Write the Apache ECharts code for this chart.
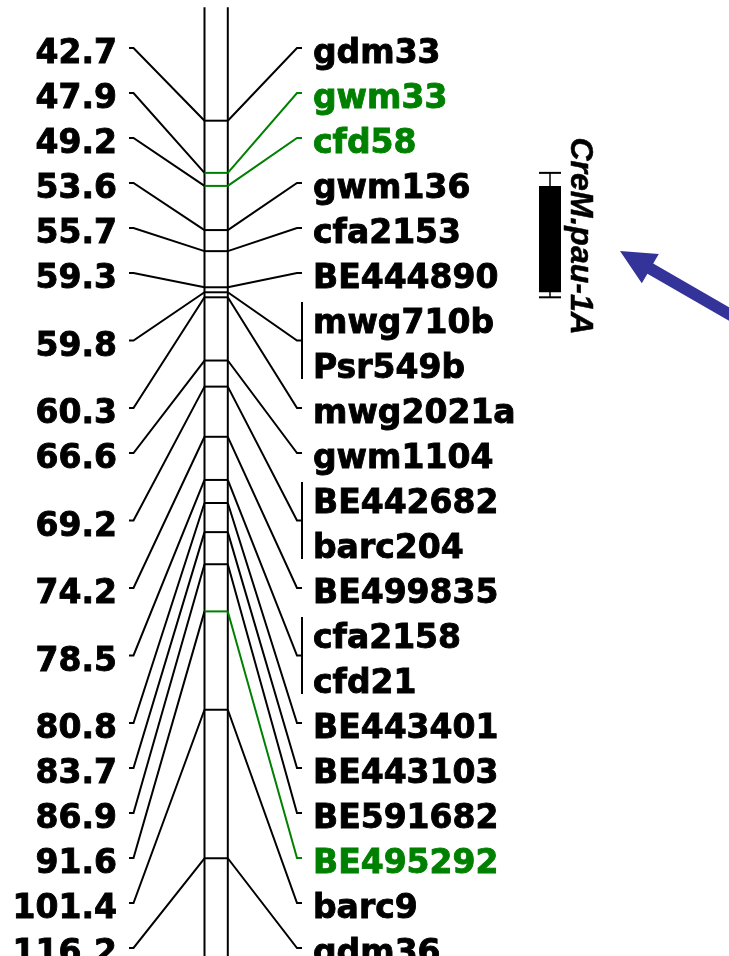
<!DOCTYPE html>
<html><head><meta charset="utf-8">
<script src="https://cdn.jsdelivr.net/npm/echarts@6/dist/echarts.min.js"></script>
<style>html,body{margin:0;padding:0;background:#fff}#c{width:729px;height:956px}</style>
</head><body><div id="c"></div>
<script>
// ---- data ----
const positionsCM = [42.7, 47.9, 49.2, 53.6, 55.7, 59.3, 59.8, 60.3, 66.6, 69.2, 74.2, 78.5, 80.8, 83.7, 86.9, 91.6, 101.4, 116.2];
const markerGroups = [['gdm33'], ['gwm33'], ['cfd58'], ['gwm136'], ['cfa2153'], ['BE444890'], ['mwg710b', 'Psr549b'], ['mwg2021a'], ['gwm1104'], ['BE442682', 'barc204'], ['BE499835'], ['cfa2158', 'cfd21'], ['BE443401'], ['BE443103'], ['BE591682'], ['BE495292'], ['barc9'], ['gdm36']];
const highlightedMarkers = ['gwm33', 'cfd58', 'BE495292'];
const qtlName = 'CreM.pau-1A';
const qtlInterval = [49.2, 59.8];
const qtlSupport = [47.9, 60.3];
const chromosomeSpan = [31.4, 130];

// ---- styles / layout ----
const BLACK = '#000000', GREEN = '#008000', BLUE = '#333399';
const LW = 2;
const FONT = 'bold 33px "DejaVu Sans"';
const TEXT_STROKE = 0.9;
const CHR_L = 204.5, CHR_R = 227.8;
const L_TICK0 = 129, L_TICK1 = 133.5, R_TICK0 = 297, R_TICK1 = 302;
const L_TEXT = 117, R_TEXT = 313, TEXT_DY = 6.5;

let slotCounter = 0;
const lociData = positionsCM.map((cm, i) => {
  const n = markerGroups[i].length;
  const first = slotCounter; slotCounter += n;
  return [0, cm, first, n, i];
});

const chart = echarts.init(document.getElementById('c'), null, {renderer: 'canvas'});
function slotPx(s) { return chart.convertToPixel({yAxisIndex: 1}, s); }

function textStyle(text, x, y, align, color) {
  return {type: 'text', style: {text: text, x: x, y: y, align: align, verticalAlign: 'middle', font: FONT, fill: color, stroke: color, lineWidth: TEXT_STROKE}};
}

function renderChromosome(params, api) {
  const p0 = api.coord([0, api.value(1)]);
  const p1 = api.coord([0, api.value(2)]);
  return {type: 'group', children: [
    {type: 'line', shape: {x1: CHR_L, y1: p0[1], x2: CHR_L, y2: p1[1]}, style: {stroke: BLACK, lineWidth: LW}},
    {type: 'line', shape: {x1: CHR_R, y1: p0[1], x2: CHR_R, y2: p1[1]}, style: {stroke: BLACK, lineWidth: LW}}
  ]};
}

function renderLocus(params, api) {
  const cm = api.value(1), first = api.value(2), n = api.value(3), idx = api.value(4);
  const y = api.coord([0, cm])[1];
  const names = markerGroups[idx];
  const hl = names.some(m => highlightedMarkers.includes(m));
  const col = hl ? GREEN : BLACK;
  const ys = slotPx(first + (n - 1) / 2);
  const children = [
    {type: 'polyline', shape: {points: [[L_TICK0, ys], [L_TICK1, ys], [CHR_L, y]]}, style: {stroke: BLACK, lineWidth: LW, fill: 'none'}},
    {type: 'line', shape: {x1: CHR_L, y1: y, x2: CHR_R, y2: y}, style: {stroke: col, lineWidth: LW}},
    {type: 'polyline', shape: {points: [[CHR_R, y], [R_TICK0, ys], [R_TICK1, ys]]}, style: {stroke: col, lineWidth: LW, fill: 'none'}},
    textStyle(cm.toFixed(1), L_TEXT, ys + TEXT_DY, 'right', BLACK)
  ];
  if (n > 1) {
    children.push({type: 'line', shape: {x1: R_TICK1, y1: slotPx(first) - 16, x2: R_TICK1, y2: slotPx(first + n - 1) + 16}, style: {stroke: BLACK, lineWidth: LW}});
  }
  names.forEach((m, k) => {
    children.push(textStyle(m, R_TEXT, slotPx(first + k) + TEXT_DY, 'left', highlightedMarkers.includes(m) ? GREEN : BLACK));
  });
  return {type: 'group', children};
}

function renderQtl(params, api) {
  const yTop = api.coord([0, api.value(1)])[1];
  const yBot = api.coord([0, api.value(2)])[1];
  const wTop = api.coord([0, api.value(3)])[1];
  const wBot = api.coord([0, api.value(4)])[1];
  const xL = 539, xR = 561, xC = (xL + xR) / 2;
  const yMid = (yTop + yBot) / 2;
  // arrow pointing at the QTL
  const tip = [xR + 59, yMid + 12];
  const ang = Math.PI / 6;
  const u = [Math.cos(ang), Math.sin(ang)], nv = [-Math.sin(ang), Math.cos(ang)];
  const P = (a, b) => [tip[0] + u[0] * a + nv[0] * b, tip[1] + u[1] * a + nv[1] * b];
  const headLen = 35, headHalf = 17, shaftHalf = 5.8, shaftLen = 260;
  return {type: 'group', children: [
    {type: 'line', shape: {x1: xC, y1: wTop, x2: xC, y2: wBot}, style: {stroke: BLACK, lineWidth: 1.5}},
    {type: 'line', shape: {x1: xL, y1: wTop, x2: xR, y2: wTop}, style: {stroke: BLACK, lineWidth: 2}},
    {type: 'line', shape: {x1: xL, y1: wBot, x2: xR, y2: wBot}, style: {stroke: BLACK, lineWidth: 2}},
    {type: 'rect', shape: {x: xL, y: yTop, width: xR - xL, height: yBot - yTop}, style: {fill: BLACK}},
    {type: 'text', x: xR + 19, y: yMid - 3, rotation: -Math.PI / 2,
      style: {text: qtlName, x: 0, y: 0, align: 'center', verticalAlign: 'middle', font: 'italic bold 32px "Liberation Sans"', fill: BLACK, stroke: BLACK, lineWidth: 0.5}},
    {type: 'polygon', shape: {points: [P(0, 0), P(headLen, headHalf), P(headLen, shaftHalf), P(shaftLen, shaftHalf), P(shaftLen, -shaftHalf), P(headLen, -shaftHalf), P(headLen, -headHalf)]}, style: {fill: BLUE}}
  ]};
}

const option = {
  animation: false,
  backgroundColor: '#ffffff',
  grid: {left: 0, right: 0, top: 0, bottom: 0},
  xAxis: {type: 'value', min: 0, max: 729, show: false},
  yAxis: [
    {type: 'value', min: 30.673, max: 125.94, inverse: true, show: false},
    {type: 'value', min: -1.0667, max: 20.178, inverse: true, show: false}
  ],
  series: [
    {type: 'custom', name: 'chromosome', renderItem: renderChromosome, data: [[0, chromosomeSpan[0], chromosomeSpan[1]]], encode: {x: 0, y: 1}, silent: true},
    {type: 'custom', name: 'loci', renderItem: renderLocus, data: lociData, encode: {x: 0, y: 1}, silent: true},
    {type: 'custom', name: 'qtl', renderItem: renderQtl, data: [[0, qtlInterval[0], qtlInterval[1], qtlSupport[0], qtlSupport[1]]], encode: {x: 0, y: 1}, silent: true}
  ]
};
chart.setOption(option);
</script>
</body></html>
